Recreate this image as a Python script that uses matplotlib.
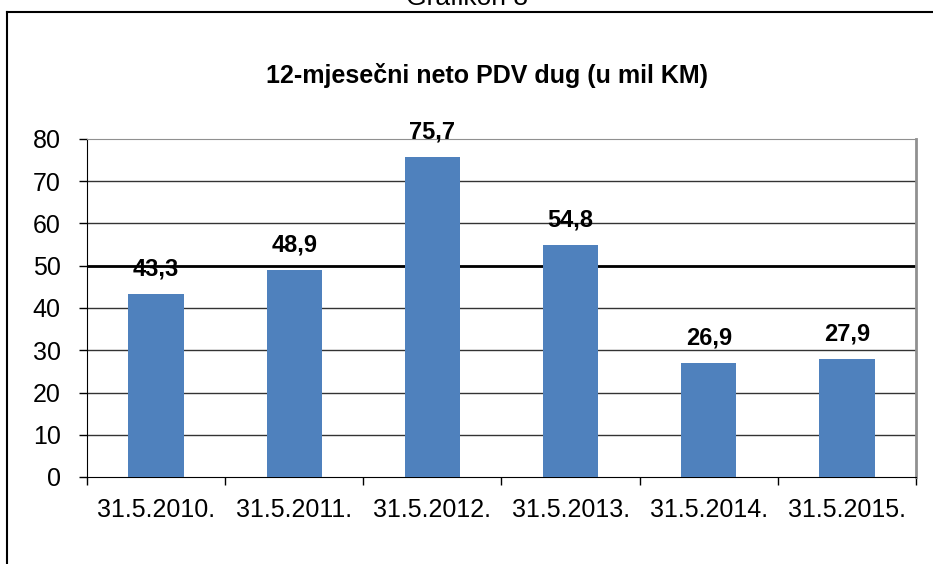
import numpy as np
import matplotlib.pyplot as plt
from matplotlib.lines import Line2D

plt.rcParams['font.family'] = ['Liberation Sans', 'DejaVu Sans']

# podaci
datumi = ['31.5.2010.', '31.5.2011.', '31.5.2012.', '31.5.2013.', '31.5.2014.', '31.5.2015.']
dug = [43.3, 48.9, 75.7, 54.8, 26.9, 27.9]
y_ticks = [0, 10, 20, 30, 40, 50, 60, 70, 80]

fig = plt.figure(figsize=(9.33, 5.64), dpi=100)
ax = fig.add_axes([87/933, 1-477/564, (916-87)/933, (477-139)/564])

x = np.arange(len(datumi))
ax.bar(x, dug, width=0.4, color='#4F81BD', zorder=3)

# oznake vrijednosti
for xi, v in zip(x, dug):
    ax.text(xi, v + 3.3, ('%.1f' % v).replace('.', ','), ha='center', va='bottom',
            fontsize=17, fontweight='bold', zorder=4)

ax.set_xlim(-0.5, len(datumi) - 0.5)
ax.set_ylim(0, 80)
ax.set_yticks(y_ticks)
ax.set_yticklabels([str(t) for t in y_ticks], fontsize=18)
ax.set_xticks(x)
ax.set_xticklabels(datumi, fontsize=18)
ax.tick_params(axis='x', length=0, pad=15)
ax.tick_params(axis='y', length=6, width=1, pad=13)
ax.set_xticks(np.arange(len(datumi) + 1) - 0.5, minor=True)
ax.tick_params(axis='x', which='minor', length=6, width=1)

for t in y_ticks[1:-1]:
    ax.axhline(t, color='#333333', lw=1, zorder=1)
ax.axhline(50, color='black', lw=2, zorder=2)

ax.spines['top'].set_color('#909090')
ax.spines['right'].set_color('#909090')
ax.spines['right'].set_linewidth(2)
ax.spines['left'].set_color('black')
ax.spines['bottom'].set_color('black')

fig.text(487/933, 1 - 75/564, '12-mjesečni neto PDV dug (u mil KM)', ha='center', va='center',
         fontsize=18, fontweight='bold')
fig.text(0.5, 1 + 2/564, 'Grafikon 8', ha='center', va='center', fontsize=19)

# okvir
fig.add_artist(Line2D([7/933, 7/933], [0, 1 - 12/564], color='black', lw=1.5,
                      transform=fig.transFigure))
fig.add_artist(Line2D([7/933, 1], [1 - 12/564, 1 - 12/564], color='black', lw=1.5,
                      transform=fig.transFigure))

fig.savefig('out.png', dpi=100)
